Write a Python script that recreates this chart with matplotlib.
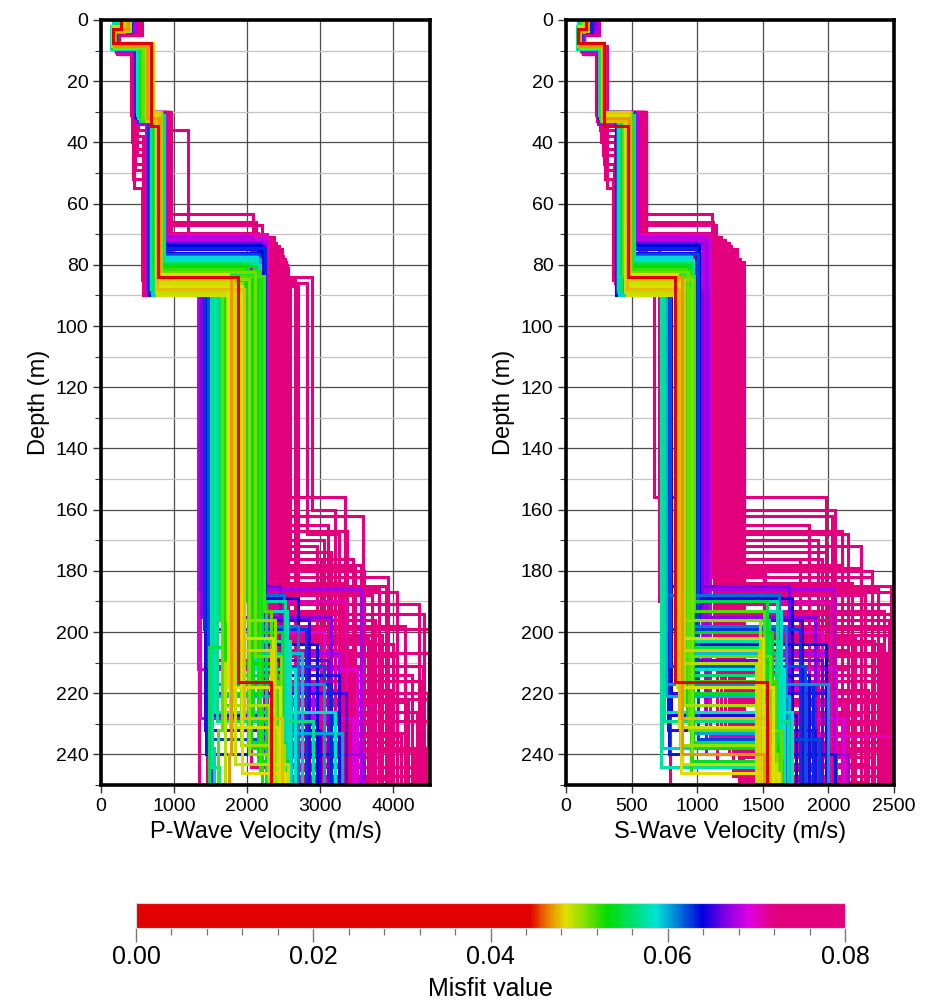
import numpy as np
import matplotlib
matplotlib.use("Agg")
import matplotlib.pyplot as plt
from matplotlib.colors import LinearSegmentedColormap, Normalize
from matplotlib.cm import ScalarMappable
from matplotlib.ticker import MultipleLocator

plt.rcParams['font.family'] = ['Liberation Sans', 'DejaVu Sans']

# ---------------------------------------------------------------------------
# Inverted layered models (6 layers each): misfit, interface depths (m),
# P- and S-wave velocities (m/s).
# Row blocks: pink (50 + 16), violet (12), blue (14), cyan (14), green (18),
# yellow (12), best model (1).
# ---------------------------------------------------------------------------
misfit = [
    0.0800, 0.0798, 0.0797, 0.0795, 0.0792, 0.0791, 0.0789, 0.0786, 0.0785, 0.0783,
    0.0781, 0.0779, 0.0778, 0.0776, 0.0773, 0.0772, 0.0770, 0.0768, 0.0767, 0.0764,
    0.0763, 0.0761, 0.0759, 0.0757, 0.0756, 0.0754, 0.0751, 0.0750, 0.0748, 0.0746,
    0.0745, 0.0743, 0.0741, 0.0739, 0.0738, 0.0736, 0.0734, 0.0733, 0.0731, 0.0730,
    0.0728, 0.0727, 0.0726, 0.0725, 0.0724, 0.0723, 0.0722, 0.0721, 0.0720, 0.0719,
    0.0799, 0.0796, 0.0793, 0.0790, 0.0787, 0.0784, 0.0780, 0.0777,
    0.0774, 0.0771, 0.0766, 0.0762, 0.0758, 0.0753, 0.0747, 0.0742,
    0.0714, 0.0710, 0.0706, 0.0701, 0.0697, 0.0692, 0.0688, 0.0684, 0.0680, 0.0676, 0.0671, 0.0667,
    0.0663, 0.0660, 0.0656, 0.0653, 0.0650, 0.0647, 0.0644, 0.0641, 0.0638, 0.0634, 0.0631, 0.0627, 0.0624, 0.0620,
    0.0614, 0.0610, 0.0606, 0.0602, 0.0598, 0.0595, 0.0591, 0.0588, 0.0584, 0.0580, 0.0577, 0.0573, 0.0570, 0.0566,
    0.0560, 0.0557, 0.0554, 0.0551, 0.0548, 0.0545, 0.0542, 0.0539, 0.0536, 0.0533, 0.0530, 0.0527, 0.0524, 0.0521, 0.0518, 0.0515, 0.0512, 0.0509,
    0.0505, 0.0502, 0.0499, 0.0496, 0.0493, 0.0490, 0.0488, 0.0485, 0.0482, 0.0479, 0.0475, 0.0470,
    0.0431,
]

# interface depths (m)
h0 = [
    3.0, 4.0, 2.5, 3.5, 3.0, 2.0, 4.5, 3.0, 2.5, 3.5,
    4.0, 2.0, 3.0, 5.0, 2.5, 3.5, 4.0, 3.0, 2.0, 4.5,
    3.5, 2.5, 3.0, 4.0, 5.0, 2.0, 3.5, 3.0, 4.5, 2.5,
    3.0, 4.0, 2.0, 3.5, 5.0, 3.0, 2.5, 4.0, 3.5, 2.0,
    4.5, 3.0, 2.5, 3.5, 4.0, 3.0, 2.0, 5.0, 3.5, 2.5,
    3.0, 2.5, 4.0, 3.5, 2.0, 3.0, 4.5, 2.5,
    3.5, 3.0, 2.0, 4.0, 3.0, 2.5, 3.5, 4.0,
    2.5, 3.5, 2.0, 4.0, 3.0, 2.5, 3.5, 3.0, 4.0, 2.0, 3.0, 2.5,
    3.0, 2.0, 3.5, 2.5, 4.0, 3.0, 2.0, 3.5, 2.5, 3.0, 4.0, 2.0, 3.5, 3.0,
    2.0, 3.0, 2.5, 3.5, 2.0, 3.0, 4.0, 2.5, 3.0, 2.0, 3.5, 2.5, 3.0, 2.0,
    3.0, 2.5, 3.5, 2.0, 3.0, 4.0, 2.5, 3.0, 3.5, 2.0, 2.5, 3.0, 4.0, 3.5, 2.0, 3.0, 2.5, 3.5,
    2.5, 3.0, 3.5, 2.0, 3.0, 2.5, 3.5, 2.0, 3.0, 2.5, 3.5, 3.0,
    3.0,
]
h1 = [
    9.5, 10.0, 9.0, 10.5, 9.0, 8.5, 10.5, 9.5, 9.0, 10.0,
    11.0, 8.5, 9.5, 10.5, 9.0, 10.0, 10.5, 9.5, 8.5, 11.0,
    10.0, 9.0, 9.5, 10.5, 11.0, 8.5, 10.0, 9.5, 10.5, 9.0,
    9.5, 10.0, 8.5, 10.0, 11.0, 9.5, 9.0, 10.5, 10.0, 8.5,
    10.5, 9.5, 9.0, 10.0, 10.5, 9.5, 8.5, 11.0, 10.0, 9.0,
    9.5, 9.0, 10.5, 10.0, 8.5, 9.5, 11.0, 9.0,
    10.0, 9.5, 8.5, 10.5, 9.5, 9.0, 10.0, 10.5,
    8.5, 9.5, 8.0, 9.0, 8.5, 8.0, 9.5, 9.0, 10.0, 8.5, 9.0, 8.0,
    8.5, 8.0, 9.0, 8.5, 9.5, 8.0, 8.5, 9.0, 8.0, 9.5, 8.5, 8.0, 9.0, 8.5,
    8.0, 8.5, 8.0, 9.0, 8.5, 8.0, 9.0, 8.5, 8.0, 9.5, 8.5, 8.0, 9.0, 8.5,
    8.0, 8.5, 7.5, 8.0, 8.5, 9.0, 8.0, 7.5, 8.5, 8.0, 7.5, 8.5, 9.0, 8.0, 7.5, 8.5, 8.0, 9.0,
    8.0, 7.5, 8.0, 8.5, 7.5, 8.0, 7.5, 8.5, 8.0, 7.5, 8.0, 8.5,
    7.5,
]
h2 = [
    31, 30, 32, 30, 31, 33, 30, 34, 31, 36,
    40, 30, 32, 30, 47, 31, 30, 33, 52, 30,
    31, 32, 30, 44, 31, 30, 34, 30, 38, 31,
    30, 32, 55, 30, 31, 33, 30, 42, 31, 30,
    32, 30, 49, 31, 30, 33, 30, 31, 36, 30,
    31, 30, 32, 30, 33, 31, 30, 32,
    30, 31, 34, 30, 32, 31, 30, 33,
    30, 31, 30, 32, 30, 31, 33, 30, 31, 34, 30, 32,
    31, 30, 32, 30, 31, 33, 30, 31, 32, 30, 31, 30, 33, 31,
    30, 32, 31, 30, 33, 31, 30, 32, 31, 30, 32, 33, 31, 30,
    31, 30, 32, 33, 30, 31, 32, 30, 31, 33, 32, 30, 31, 33, 30, 32, 31, 30,
    32, 31, 33, 30, 32, 31, 33, 32, 31, 30, 33, 32,
    34.5,
]
h3 = [
    69.5, 75, 72, 74, 63.5, 78, 71, 76, 67, 73,
    90, 80, 77, 72, 84, 75, 79, 71, 85, 78,
    66, 81, 74, 86, 78, 73, 72, 76, 84, 82,
    77, 71, 85, 79, 74, 72, 80, 87, 77, 75,
    73, 79, 83, 76, 72, 81, 78, 82, 71, 74,
    76, 79, 73, 81, 75, 78, 72, 80,
    77, 83, 74, 79, 76, 82, 75, 78,
    88, 71, 89, 70, 87, 72, 90, 71.5, 70.5, 88, 72.5, 89,
    87, 73, 89, 74, 88, 75, 90, 76, 73.5, 86, 74.5, 89, 76.5, 88,
    88, 77, 87, 78, 89, 79, 90, 77.5, 78.5, 86, 80, 88, 79.5, 89,
    88, 81, 79.5, 87, 83, 80, 85, 84, 89, 86, 80.5, 88.5, 82, 81.5, 83.5, 87.5, 82.5, 84.5,
    84, 86, 85, 88, 89, 86, 90, 83, 87, 85, 88, 84,
    84,
]
h4 = [
    207, 220, 198, 162, 182, 167, 176, 185, 180, 172,
    156, 230, 193, 214, 176, 240, 187, 203, 245, 211,
    165, 226, 190, 168, 201, 236, 179, 217, 160, 243,
    196, 209, 233, 184, 222, 174, 248, 213, 191, 228,
    204, 170, 238, 188, 218, 199, 231, 178, 244, 206,
    186, 194, 202, 208, 212, 216, 219, 223,
    227, 229, 234, 237, 239, 241, 247, 249,
    181, 224, 190, 234, 212, 200, 228, 218, 207, 186, 240, 195,
    185, 209, 220, 196, 232, 214, 227, 204, 189, 240, 217, 199, 235, 211,
    188, 198, 217, 233, 221, 207, 238, 193, 212, 226, 203, 244, 190, 229,
    196, 214, 236, 205, 228, 190, 242, 220, 210, 238, 200, 224, 246, 216, 193, 232, 208, 240,
    196, 237, 224, 210, 243, 231, 202, 218, 246, 206, 228, 240,
    216.5,
]

# P-wave velocities per layer (m/s)
vp0 = [
    520, 540, 480, 500, 460, 430, 550, 510, 470, 490,
    520, 450, 500, 530, 440, 480, 510, 470, 430, 545,
    500, 460, 490, 525, 555, 440, 495, 470, 535, 455,
    480, 515, 430, 505, 550, 470, 450, 520, 490, 440,
    530, 480, 455, 500, 515, 470, 435, 545, 495, 460,
    500, 470, 530, 490, 450, 515, 540, 465,
    505, 480, 445, 525, 495, 470, 510, 535,
    420, 470, 390, 450, 410, 380, 440, 400, 460, 430, 395, 415,
    360, 250, 400, 300, 380, 340, 230, 390, 270, 350, 410, 260, 320, 370,
    180, 220, 160, 240, 200, 170, 230, 190, 210, 165, 250, 185, 225, 175,
    300, 340, 280, 360, 320, 290, 350, 310, 330, 270, 345, 295, 315, 365, 285, 325, 305, 355,
    380, 350, 390, 330, 370, 360, 340, 385, 355, 375, 345, 365,
    280,
]
vp1 = [
    200, 220, 180, 210, 190, 170, 230, 200, 185, 205,
    215, 165, 195, 240, 175, 210, 220, 190, 160, 235,
    205, 180, 195, 225, 245, 170, 210, 190, 230, 180,
    195, 215, 160, 205, 240, 190, 175, 225, 200, 165,
    230, 195, 180, 210, 220, 190, 160, 240, 205, 180,
    195, 185, 225, 205, 170, 200, 235, 180,
    210, 190, 165, 225, 200, 185, 210, 230,
    180, 200, 160, 210, 175, 150, 195, 170, 205, 185, 165, 190,
    170, 150, 190, 160, 200, 175, 145, 185, 155, 180, 195, 150, 165, 175,
    150, 170, 140, 180, 160, 145, 175, 155, 165, 140, 185, 150, 170, 145,
    160, 175, 150, 185, 165, 155, 180, 160, 170, 150, 178, 158, 168, 188, 152, 172, 162, 182,
    170, 160, 175, 150, 165, 170, 155, 172, 162, 168, 158, 174,
    165,
]
vp2 = [
    450, 430, 470, 440, 460, 480, 420, 490, 455, 500,
    430, 440, 465, 425, 470, 445, 435, 485, 440, 420,
    460, 475, 430, 490, 450, 415, 495, 440, 460, 455,
    425, 470, 450, 445, 430, 480, 435, 480, 460, 420,
    470, 440, 460, 450, 435, 485, 425, 415, 470, 440,
    445, 465, 435, 455, 475, 440, 425, 460,
    450, 470, 485, 430, 455, 445, 465, 440,
    470, 490, 460, 480, 500, 470, 495, 485, 465, 475, 505, 480,
    480, 500, 470, 510, 490, 520, 480, 500, 475, 495, 515, 485, 505, 490,
    500, 520, 510, 490, 530, 505, 515, 540, 495, 525, 510, 535, 500, 520,
    540, 560, 580, 550, 600, 570, 590, 620, 560, 610, 545, 575, 595, 555, 605, 565, 585, 615,
    620, 640, 610, 650, 630, 700, 710, 625, 645, 615, 655, 635,
    680,
]
vp3 = [
    900, 920, 880, 940, 910, 860, 950, 870, 905, 1190,
    580, 930, 890, 945, 570, 915, 935, 875, 590, 955,
    900, 885, 925, 600, 940, 910, 865, 895, 575, 930,
    920, 905, 560, 890, 950, 880, 915, 610, 900, 935,
    925, 870, 585, 910, 945, 895, 930, 960, 640, 905,
    910, 895, 935, 905, 880, 925, 945, 900,
    915, 890, 870, 940, 905, 920, 895, 930,
    630, 860, 620, 850, 640, 870, 655, 840, 880, 625, 865, 645,
    650, 830, 665, 820, 680, 840, 660, 815, 835, 670, 825, 655, 845, 675,
    690, 845, 700, 830, 710, 850, 695, 835, 855, 705, 840, 685, 860, 715,
    720, 810, 740, 820, 730, 805, 750, 815, 760, 800, 725, 812, 745, 825, 735, 808, 755, 818,
    760, 795, 770, 790, 755, 800, 765, 798, 772, 792, 762, 788,
    785,
]
vp4 = [
    2150, 2480, 2250, 2400, 2080, 2520, 2330, 2450, 2200, 2100,
    2560, 2540, 2470, 2300, 2590, 2420, 2530, 2360, 2650, 2500,
    2120, 2555, 2440, 2820, 2510, 2390, 2280, 2460, 2890, 2560,
    2490, 2340, 2480, 2525, 2430, 2180, 2545, 2700, 2495, 2450,
    2290, 2515, 2350, 2470, 2370, 2550, 2485, 2540, 2050, 2410,
    2470, 2520, 2380, 2545, 2440, 2510, 2350, 2535,
    2490, 2560, 2410, 2525, 2460, 2550, 2430, 2500,
    1330, 2230, 1360, 2270, 1320, 2200, 1350, 2250, 2060, 1340, 2240, 1370,
    1400, 2180, 1440, 2230, 1420, 2150, 1460, 2210, 2190, 1430, 2240, 1410, 2160, 1470,
    1500, 2120, 1540, 2170, 1580, 2090, 1520, 2140, 2100, 1560, 2180, 1510, 2110, 1590,
    1620, 1960, 2010, 1680, 2080, 1990, 2150, 2200, 1650, 2050, 2120, 1700, 2170, 1940, 2230, 1660, 2100, 2020,
    1720, 1910, 1790, 1950, 1830, 1760, 1900, 1740, 1930, 1810, 1960, 1780,
    1873,
]
vp5 = [
    4480, 4470, 4160, 3590, 3920, 3370, 3020, 3900, 3600, 2950,
    3340, 3750, 3280, 4250, 3450, 3150, 4050, 3680, 2980, 4400,
    3100, 4320, 1340, 3250, 3850, 4100, 3480, 2700, 3200, 3550,
    3750, 1450, 4200, 3300, 4480, 3150, 3900, 2800, 4350, 3350,
    4000, 3050, 4450, 3700, 3000, 4600, 2650, 3550, 4300, 3400,
    3800, 4420, 3650, 4050, 3550, 4380, 3950, 4200,
    3750, 4480, 4100, 3600, 4300, 3850, 4450, 3700,
    2380, 3700, 3350, 3200, 3500, 3050, 3450, 2900, 3250, 3550, 3600, 3150,
    2450, 3100, 3350, 2850, 3000, 3250, 2750, 2950, 2700, 3300, 3150, 2800, 1520, 3050,
    2500, 2700, 3050, 3300, 2600, 2750, 1550, 2550, 2650, 3200, 2580, 1620, 2520, 2900,
    2380, 2450, 2520, 1480, 2300, 2250, 2560, 1700, 2400, 2350, 2480, 2200, 2540, 2420, 2320, 1600, 2460, 2280,
    2380, 2500, 2300, 1690, 2560, 2420, 2350, 2450, 2520, 2330, 2480, 1750,
    2327,
]

# S-wave velocities per layer (m/s)
vs0 = [
    230, 240, 210, 220, 200, 190, 245, 225, 205, 215,
    235, 195, 220, 250, 200, 215, 230, 205, 185, 245,
    220, 200, 215, 235, 250, 190, 220, 205, 240, 200,
    210, 230, 185, 220, 245, 205, 195, 235, 215, 190,
    240, 210, 200, 220, 230, 205, 185, 250, 220, 200,
    220, 205, 240, 225, 195, 215, 245, 200,
    230, 210, 190, 235, 220, 205, 225, 240,
    210, 230, 190, 240, 200, 185, 225, 205, 235, 195, 215, 220,
    170, 120, 190, 140, 180, 160, 115, 185, 130, 175, 195, 125, 150, 165,
    95, 115, 90, 125, 105, 95, 120, 100, 110, 92, 130, 98, 118, 102,
    130, 150, 120, 160, 140, 125, 155, 135, 145, 120, 150, 128, 138, 162, 122, 148, 132, 158,
    160, 145, 170, 140, 155, 150, 145, 165, 148, 158, 142, 168,
    150,
]
vs1 = [
    120, 130, 110, 125, 115, 100, 135, 120, 110, 118,
    128, 100, 115, 140, 105, 125, 130, 112, 95, 138,
    120, 108, 118, 132, 140, 100, 125, 112, 135, 105,
    115, 128, 95, 122, 140, 112, 105, 132, 118, 98,
    136, 115, 108, 124, 130, 112, 95, 140, 122, 106,
    118, 110, 132, 122, 100, 116, 138, 108,
    126, 114, 98, 130, 120, 110, 124, 134,
    110, 120, 100, 125, 105, 95, 118, 102, 128, 108, 98, 115,
    100, 90, 110, 95, 115, 100, 88, 108, 92, 105, 112, 90, 98, 103,
    88, 98, 85, 105, 92, 86, 100, 90, 95, 84, 108, 88, 96, 90,
    92, 100, 88, 108, 95, 90, 104, 94, 98, 88, 102, 91, 96, 106, 89, 99, 93, 105,
    98, 94, 102, 88, 96, 99, 92, 100, 95, 97, 90, 101,
    95,
]
vs2 = [
    240, 235, 245, 238, 242, 250, 232, 255, 240, 260,
    270, 236, 244, 233, 290, 241, 237, 252, 300, 231,
    243, 248, 236, 280, 240, 234, 256, 239, 265, 242,
    236, 246, 310, 241, 233, 251, 238, 285, 243, 232,
    247, 239, 295, 241, 235, 253, 232, 231, 262, 240,
    240, 244, 236, 242, 250, 238, 233, 246,
    240, 245, 255, 235, 243, 239, 247, 237,
    245, 250, 242, 255, 248, 244, 252, 246, 250, 243, 256, 247,
    250, 255, 248, 258, 252, 260, 249, 254, 251, 257, 253, 250, 259, 255,
    255, 262, 258, 252, 265, 256, 260, 268, 254, 263, 259, 266, 257, 261,
    265, 270, 275, 268, 280, 272, 276, 285, 270, 282, 266, 274, 278, 269, 283, 271, 277, 286,
    278, 285, 275, 288, 282, 290, 292, 280, 286, 277, 289, 283,
    290,
]
vs3 = [
    590, 600, 580, 605, 590, 570, 610, 560, 595, 610,
    380, 600, 585, 608, 365, 592, 603, 575, 355, 610,
    588, 578, 598, 375, 604, 593, 565, 586, 370, 600,
    590, 596, 360, 582, 609, 574, 594, 385, 588, 602,
    597, 568, 372, 595, 606, 585, 599, 612, 390, 591,
    595, 590, 604, 598, 580, 600, 610, 588,
    597, 592, 576, 606, 594, 601, 589, 603,
    385, 530, 380, 525, 390, 535, 378, 528, 540, 382, 522, 392,
    380, 512, 388, 508, 395, 515, 384, 505, 518, 390, 510, 386, 514, 392,
    400, 510, 405, 505, 398, 512, 402, 507, 515, 408, 503, 396, 508, 410,
    425, 490, 435, 495, 430, 488, 440, 492, 445, 485, 428, 494, 438, 497, 432, 489, 442, 491,
    455, 480, 460, 478, 452, 483, 462, 476, 458, 482, 465, 479,
    470,
]
vs4 = [
    1130, 1300, 1160, 1220, 1110, 1330, 1150, 1260, 1140, 1200,
    667, 1345, 1290, 1170, 1310, 1240, 1355, 1180, 1270, 1320,
    1120, 1340, 710, 1360, 1330, 1210, 1165, 1280, 1340, 1350,
    1295, 1160, 1180, 1325, 1250, 1150, 1336, 1220, 1300, 1265,
    1145, 1318, 1275, 1285, 1200, 1326, 1305, 1352, 1150, 1245,
    1300, 1330, 1240, 1345, 1285, 1320, 1210, 1340,
    1305, 1355, 1260, 1335, 1295, 1350, 1275, 1315,
    1030, 1080, 1050, 1100, 1040, 1070, 1060, 1090, 1045, 1085, 1065, 1035,
    770, 1005, 790, 1010, 780, 995, 800, 1000, 1015, 785, 990, 775, 1008, 795,
    720, 950, 740, 960, 760, 945, 735, 955, 965, 750, 940, 725, 958, 745,
    910, 930, 950, 970, 920, 940, 960, 915, 935, 965, 925, 945, 955, 912, 975, 938, 928, 962,
    840, 870, 900, 855, 885, 865, 890, 848, 878, 895, 860, 882,
    833,
]
vs5 = [
    2600, 2650, 2550, 2030, 2330, 2100, 1950, 2480, 2333, 2250,
    1985, 2700, 2420, 2520, 1780, 2200, 2560, 2350, 1900, 2610,
    1850, 2450, 790, 2150, 2540, 2380, 2250, 1700, 2050, 2300,
    2460, 1450, 2560, 2180, 2700, 1980, 2150, 1600, 2510, 2050,
    2400, 1920, 2480, 2280, 1880, 2650, 1550, 2100, 2420, 2150,
    2380, 2620, 2200, 2450, 2150, 2560, 2300, 2480,
    2250, 2700, 2400, 2100, 2520, 2350, 2600, 2280,
    1520, 2130, 2010, 2600, 2060, 1950, 2110, 1830, 1980, 2040, 2150, 1900,
    1700, 1950, 2000, 1800, 1900, 1850, 1750, 1980, 1720, 2050, 1880, 1780, 1930, 1820,
    1620, 1680, 2000, 1650, 1700, 1600, 1550, 1640, 1660, 1720, 1630, 1580, 1610, 1690,
    1550, 1600, 1620, 1500, 1580, 1530, 1650, 1520, 1560, 1610, 1570, 1540, 1630, 1590, 1510, 1640, 1555, 1605,
    1480, 1560, 1520, 1450, 1600, 1540, 1500, 1580, 1620, 1470, 1550, 1510,
    1530,
]

depth_cols = [h0, h1, h2, h3, h4]
vp_cols = [vp0, vp1, vp2, vp3, vp4, vp5]
vs_cols = [vs0, vs1, vs2, vs3, vs4, vs5]
n_models = len(misfit)
for col in depth_cols + vp_cols + vs_cols:
    if len(col) != n_models:
        raise ValueError("inconsistent model table: %d vs %d" % (len(col), n_models))

# ---------------------------------------------------------------------------
# Misfit colour scale (red for the best fits, rainbow above ~0.045)
# ---------------------------------------------------------------------------
vmin, vmax = 0.0, 0.08
cmap = LinearSegmentedColormap.from_list("misfit", [
    (0.000, "#e30000"),
    (0.556, "#e30000"),
    (0.578, "#e87000"),
    (0.605, "#e3e000"),
    (0.635, "#80e000"),
    (0.665, "#00dc00"),
    (0.735, "#00e3d6"),
    (0.800, "#0000e0"),
    (0.835, "#8a00e3"),
    (0.866, "#e000e3"),
    (0.900, "#e3007c"),
    (1.000, "#e3007c"),
])
norm = Normalize(vmin, vmax)

BOTTOM = 270.0  # half-space drawn beyond the plotted depth range


def step_profile(depths, vels):
    bounds = np.concatenate([[0.0], depths, [BOTTOM]])
    z = np.repeat(bounds, 2)[1:-1]
    v = np.repeat(vels, 2)
    return v, z


fig = plt.figure(figsize=(9.27, 10.05), dpi=100)
W, H = 927.0, 1005.0
ax_p = fig.add_axes([101 / W, 1 - 785 / H, 329 / W, 765 / H])
ax_s = fig.add_axes([566 / W, 1 - 785 / H, 328 / W, 765 / H])

order = np.argsort(misfit)[::-1]  # worst first, best drawn last (on top)

for ax, vcols, vmax_ax, vstep, xlabel in (
        (ax_p, vp_cols, 4500, 1000, "P-Wave Velocity (m/s)"),
        (ax_s, vs_cols, 2500, 500, "S-Wave Velocity (m/s)")):
    for i in order:
        depths = [c[i] for c in depth_cols]
        vels = [c[i] for c in vcols]
        x, z = step_profile(depths, vels)
        ax.plot(x, z, color=cmap(norm(misfit[i])), lw=2.2,
                solid_joinstyle="miter", solid_capstyle="butt", zorder=3)

    ax.set_xlim(0, vmax_ax)
    ax.set_ylim(250, 0)
    ax.xaxis.set_major_locator(MultipleLocator(vstep))
    ax.yaxis.set_major_locator(MultipleLocator(20))
    ax.yaxis.set_minor_locator(MultipleLocator(10))
    ax.set_axisbelow(True)
    ax.grid(which="major", axis="both", color="#4d4d4d", lw=0.9, zorder=0)
    ax.grid(which="minor", axis="y", color="#c4c4c4", lw=0.9, zorder=0)
    for sp in ax.spines.values():
        sp.set_linewidth(2.6)
        sp.set_color("black")
        sp.set_zorder(5)
    ax.tick_params(axis="both", which="major", direction="out", length=6,
                   width=1.0, color="#333333", labelsize=14, pad=3)
    ax.tick_params(axis="y", which="minor", direction="out", length=4,
                   width=0.8, color="#333333")
    ax.set_xlabel(xlabel, fontsize=17, labelpad=5)
    ax.set_ylabel("Depth (m)", fontsize=17, labelpad=4)

# ---------------------------------------------------------------------------
# Horizontal colour bar
# ---------------------------------------------------------------------------
cax = fig.add_axes([136 / W, 1 - 928 / H, 709 / W, 25 / H])
sm = ScalarMappable(norm=norm, cmap=cmap)
cb = fig.colorbar(sm, cax=cax, orientation="horizontal")
cb.set_ticks([0.0, 0.02, 0.04, 0.06, 0.08])
cb.ax.xaxis.set_minor_locator(MultipleLocator(0.004))
cb.ax.set_xticklabels(["0.00", "0.02", "0.04", "0.06", "0.08"])
cb.outline.set_edgecolor("#d9d9d9")
cb.outline.set_linewidth(0.8)
cb.ax.tick_params(which="major", direction="out", length=10, width=1.0,
                  color="#777777", labelsize=18, pad=2)
cb.ax.tick_params(which="minor", direction="out", length=5, width=0.9,
                  color="#777777")
cb.set_label("Misfit value", fontsize=18, labelpad=6)

fig.savefig("out.png", dpi=100, facecolor="white")
